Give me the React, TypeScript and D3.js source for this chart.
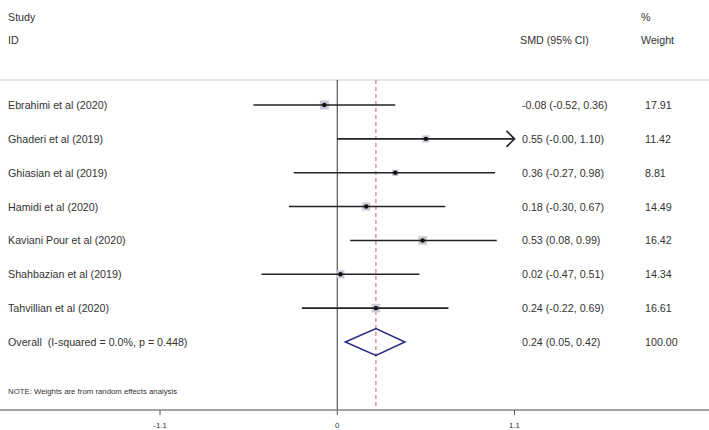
import React from "react";
import * as d3 from "d3";

const studies = [
  "Ebrahimi et al (2020)",
  "Ghaderi et al (2019)",
  "Ghiasian et al (2019)",
  "Hamidi et al (2020)",
  "Kaviani Pour et al (2020)",
  "Shahbazian et al (2019)",
  "Tahvillian et al (2020)",
];
const smd = [-0.08, 0.55, 0.36, 0.18, 0.53, 0.02, 0.24];
const lower = [-0.52, -0.0, -0.27, -0.3, 0.08, -0.47, -0.22];
const upper = [0.36, 1.1, 0.98, 0.67, 0.99, 0.51, 0.69];
const ciText = [
  "-0.08 (-0.52, 0.36)",
  "0.55 (-0.00, 1.10)",
  "0.36 (-0.27, 0.98)",
  "0.18 (-0.30, 0.67)",
  "0.53 (0.08, 0.99)",
  "0.02 (-0.47, 0.51)",
  "0.24 (-0.22, 0.69)",
];
const weights = [17.91, 11.42, 8.81, 14.49, 16.42, 14.34, 16.61];
const weightText = ["17.91", "11.42", "8.81", "14.49", "16.42", "14.34", "16.61"];

const overallLabel = "Overall  (I-squared = 0.0%, p = 0.448)";
const overall = { est: 0.24, lo: 0.05, hi: 0.42, text: "0.24 (0.05, 0.42)", weight: "100.00" };
const ticks = [-1.1, 0, 1.1];
const tickLabels = ["-1.1", "0", "1.1"];

export default function App() {
  const W = 709;
  const H = 430;
  const x = d3.scaleLinear().domain([-1.1, 1.1]).range([160, 514.5]);
  const y = d3.scaleLinear().domain([0, 7]).range([105, 342]);
  const boxSize = d3.scaleSqrt().domain([0, 17.91]).range([0, 9]);
  const font = "Arial, 'Liberation Sans', Helvetica, sans-serif";
  const txt = "#333";
  const fs = 10.7;
  const axisY = 410;
  const topY = 80;
  const xMax = x.domain()[1];

  return (
    <svg width={W} height={H} style={{ position: "absolute", left: 0, top: 0, background: "#fff" }} fontFamily={font}>
      <rect x={0} y={0} width={W} height={H} fill="#fff" />
      {/* headers */}
      <text x={8} y={21} fontSize={fs} fill={txt}>Study</text>
      <text x={8} y={44} fontSize={fs} fill={txt}>ID</text>
      <text x={520} y={44} fontSize={fs} fill={txt}>SMD (95% CI)</text>
      <text x={641} y={21} fontSize={fs} fill={txt}>%</text>
      <text x={641} y={44} fontSize={fs} fill={txt}>Weight</text>
      <line x1={0} x2={W} y1={topY} y2={topY} stroke="#dcdce4" strokeWidth={1.5} />

      {/* null line */}
      <line x1={x(0)} x2={x(0)} y1={topY} y2={axisY} stroke="#333" strokeWidth={1} />
      {/* overall dashed */}
      <line x1={x(overall.est)} x2={x(overall.est)} y1={topY} y2={axisY} stroke="#b5646a" strokeWidth={1} strokeDasharray="4,3" />

      {studies.map((s, i) => {
        const yy = y(i);
        const hi = Math.min(upper[i], xMax);
        const arrow = upper[i] >= xMax;
        const b = boxSize(weights[i]);
        return (
          <g key={s}>
            <text x={8} y={yy + 4} fontSize={fs} fill={txt}>{s}</text>
            <rect x={x(smd[i]) - b / 2} y={yy - b / 2} width={b} height={b} fill="#c9c9d3" />
            <line x1={x(lower[i])} x2={x(hi)} y1={yy} y2={yy} stroke="#222" strokeWidth={1.6} />
            {arrow && (
              <polyline
                points={`${x(hi) - 8},${yy - 8} ${x(hi)},${yy} ${x(hi) - 8},${yy + 8}`}
                fill="none"
                stroke="#222"
                strokeWidth={1.6}
              />
            )}
            <circle cx={x(smd[i])} cy={yy} r={2.2} fill="#111" />
            <text x={522} y={yy + 4} fontSize={fs} fill={txt}>{ciText[i]}</text>
            <text x={645} y={yy + 4} fontSize={fs} fill={txt}>{weightText[i]}</text>
          </g>
        );
      })}

      {/* overall */}
      <text x={8} y={y(7) + 4} fontSize={fs} fill={txt} style={{ whiteSpace: "pre" }}>{overallLabel}</text>
      <polygon
        points={`${x(overall.lo)},${y(7)} ${x(overall.est)},${y(7) - 13.5} ${x(overall.hi)},${y(7)} ${x(overall.est)},${y(7) + 13.5}`}
        fill="none"
        stroke="#2a2a86"
        strokeWidth={1.5}
      />
      <text x={522} y={y(7) + 4} fontSize={fs} fill={txt}>{overall.text}</text>
      <text x={645} y={y(7) + 4} fontSize={fs} fill={txt}>{overall.weight}</text>

      <text x={8} y={394} fontSize={7.8} fill={txt}>NOTE: Weights are from random effects analysis</text>

      {/* axis */}
      <line x1={0} x2={W} y1={axisY} y2={axisY} stroke="#888" strokeWidth={1.5} />
      {ticks.map((t, i) => (
        <g key={t}>
          <line x1={x(t)} x2={x(t)} y1={axisY} y2={axisY + 5} stroke="#555" strokeWidth={1} />
          <text x={x(t)} y={428} fontSize={7.8} fill={txt} textAnchor="middle">{tickLabels[i]}</text>
        </g>
      ))}
    </svg>
  );
}
